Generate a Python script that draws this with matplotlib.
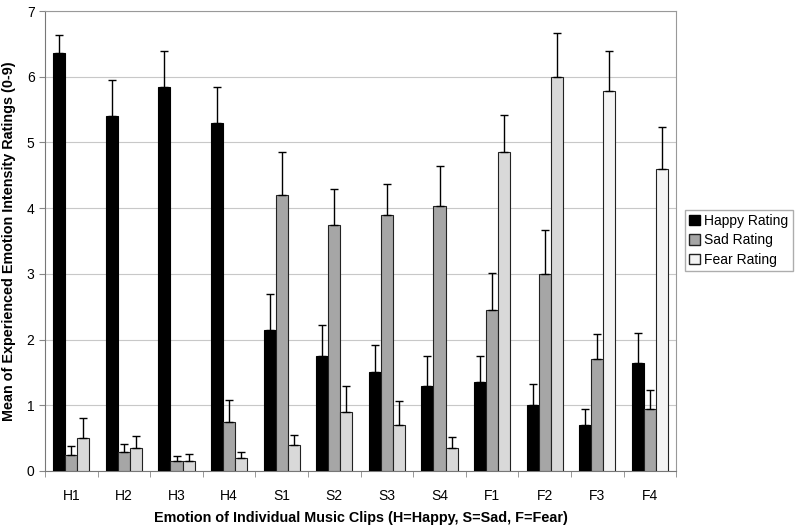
import numpy as np
import matplotlib.pyplot as plt
from matplotlib.patches import Patch

plt.rcParams['font.family'] = ['Liberation Sans', 'DejaVu Sans']

clips = ['H1', 'H2', 'H3', 'H4', 'S1', 'S2', 'S3', 'S4', 'F1', 'F2', 'F3', 'F4']

happy = [6.36, 5.40, 5.85, 5.30, 2.15, 1.75, 1.50, 1.30, 1.35, 1.00, 0.70, 1.65]
happy_err = [0.27, 0.55, 0.55, 0.54, 0.55, 0.47, 0.41, 0.45, 0.40, 0.33, 0.24, 0.45]

sad = [0.25, 0.29, 0.15, 0.75, 4.20, 3.75, 3.90, 4.04, 2.45, 3.00, 1.70, 0.95]
sad_err = [0.13, 0.12, 0.08, 0.33, 0.66, 0.54, 0.47, 0.60, 0.57, 0.67, 0.39, 0.28]

fear = [0.50, 0.35, 0.15, 0.20, 0.40, 0.90, 0.70, 0.35, 4.85, 6.00, 5.79, 4.59]
fear_err = [0.31, 0.18, 0.11, 0.09, 0.15, 0.40, 0.37, 0.16, 0.57, 0.66, 0.61, 0.64]

x = np.arange(len(clips))
w = 0.23

fig = plt.figure(figsize=(8, 5.28), dpi=100)
ax = fig.add_axes([0.05625, 0.108, 0.789, 0.871])

ekw = dict(elinewidth=1, ecolor='black', capsize=3, capthick=1)
fear_colors = ['#d9d9d9'] * 10 + ['#f4f4f4'] * 2

ax.bar(x - w, happy, w, color='black', edgecolor='black', linewidth=0.8,
       yerr=[np.zeros(len(x)), happy_err], error_kw=ekw, zorder=3)
ax.bar(x, sad, w, color='#a6a6a6', edgecolor='#222222', linewidth=0.8,
       yerr=[np.zeros(len(x)), sad_err], error_kw=ekw, zorder=3)
ax.bar(x + w, fear, w, color=fear_colors, edgecolor='#222222', linewidth=0.8,
       yerr=[np.zeros(len(x)), fear_err], error_kw=ekw, zorder=3)

ax.set_xlim(-0.5, len(clips) - 0.5)
ax.set_ylim(0, 7)
ax.set_yticks(range(8))
ax.yaxis.grid(True, color='#c8c8c8', linewidth=0.8, zorder=0)
ax.set_axisbelow(True)

ax.set_xticks(x)
ax.set_xticklabels(clips)
ax.tick_params(axis='x', length=0, labelsize=10, pad=13)
ax.set_xticks(np.arange(-0.5, len(clips)), minor=True)
ax.tick_params(axis='x', which='minor', length=4, color='#888888')
ax.tick_params(axis='y', length=4, labelsize=10, color='#888888')

for s in ['top', 'right']:
    ax.spines[s].set_color('#999999')
for s in ['left', 'bottom']:
    ax.spines[s].set_color('#777777')

ax.set_xlabel('Emotion of Individual Music Clips (H=Happy, S=Sad, F=Fear)',
              fontsize=10.4, fontweight='bold', labelpad=6)
ax.set_ylabel('Mean of Experienced Emotion Intensity Ratings (0-9)',
              fontsize=10.4, fontweight='bold', labelpad=8)

handles = [Patch(facecolor='black', edgecolor='black'),
           Patch(facecolor='#a6a6a6', edgecolor='#222222'),
           Patch(facecolor='#f4f4f4', edgecolor='#222222')]
fig.legend(handles, ['Happy Rating', 'Sad Rating', 'Fear Rating'],
           loc='upper left', bbox_to_anchor=(0.856, 0.603), fontsize=10,
           frameon=True, fancybox=False, edgecolor='#999999',
           handlelength=0.8, handleheight=0.8, handletextpad=0.3,
           labelspacing=0.4, borderpad=0.3, borderaxespad=0)

fig.savefig('out.png', dpi=100)
